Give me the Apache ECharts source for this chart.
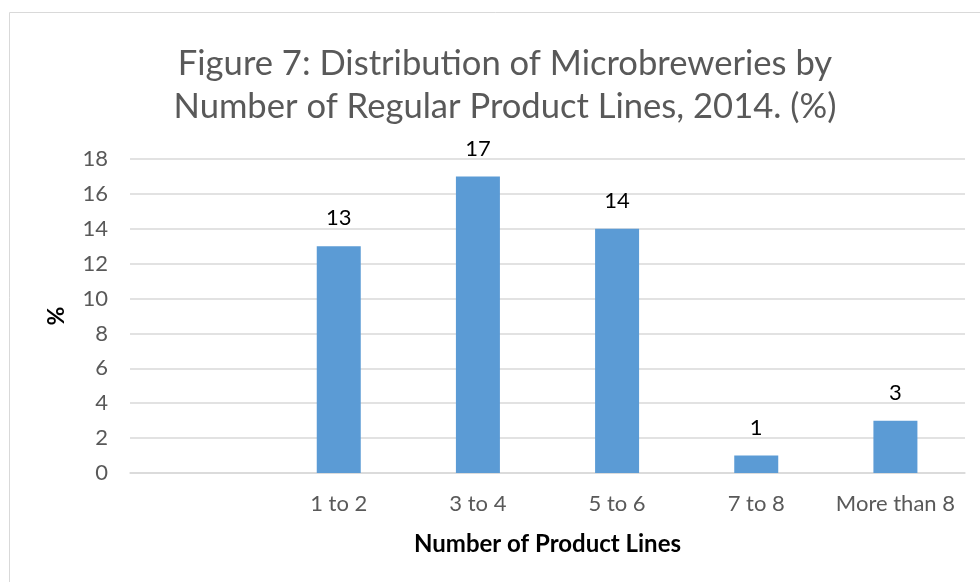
<!DOCTYPE html>
<html><head><meta charset="utf-8">
<script src="https://cdn.jsdelivr.net/npm/echarts@6/dist/echarts.min.js"></script>
<style>html,body{margin:0;padding:0;background:#fff}#c{width:980px;height:582px}</style>
</head><body><div id="c"></div>
<script>
var categories = ["", "1 to 2", "3 to 4", "5 to 6", "7 to 8", "More than 8"];
var values = [null, 13, 17, 14, 1, 3];
var yTicks = {min: 0, max: 18, interval: 2};
var titleText = "Figure 7: Distribution of Microbreweries by\nNumber of Regular Product Lines, 2014. (%)";
var xName = "Number of Product Lines";
var yName = "%";

var chart = echarts.init(document.getElementById('c'), null, {renderer: 'canvas'});
var F = "Lato, 'Open Sans', sans-serif";
chart.setOption({
  animation: false,
  graphic: [{type: 'rect', shape: {x: 9.5, y: 12.5, width: 1000, height: 600}, style: {fill: 'none', stroke: '#d9d9d9', lineWidth: 1}, silent: true}],
  title: {text: titleText, left: 500, textAlign: 'center', top: 37, textStyle: {fontFamily: F, fontWeight: 'normal', fontSize: 34.6, color: '#595959', lineHeight: 43}},
  grid: {left: 130, right: 15, top: 159, bottom: 109, containLabel: false},
  xAxis: {type: 'category', data: categories, name: xName, nameLocation: 'middle', nameGap: 59,
    nameTextStyle: {fontFamily: F, fontWeight: 'bold', fontSize: 24, color: '#000'},
    axisLine: {lineStyle: {color: '#d9d9d9', width: 1.5}}, axisTick: {show: false},
    axisLabel: {interval: 0, fontFamily: F, fontSize: 22, color: '#595959', margin: 20}},
  yAxis: {type: 'value', min: yTicks.min, max: yTicks.max, interval: yTicks.interval, name: yName, nameLocation: 'middle', nameGap: 62, nameRotate: 90,
    nameTextStyle: {fontFamily: F, fontWeight: 'bold', fontSize: 23, color: '#000'},
    axisLine: {show: false}, axisTick: {show: false},
    axisLabel: {fontFamily: F, fontSize: 22, color: '#595959', margin: 22},
    splitLine: {lineStyle: {color: '#d9d9d9', width: 1.5}}},
  series: [{type: 'bar', data: values, barWidth: 44, itemStyle: {color: '#5b9bd5'},
    label: {show: true, position: 'top', distance: 17, fontFamily: F, fontSize: 22, color: '#000'}}]
});
</script></body></html>
